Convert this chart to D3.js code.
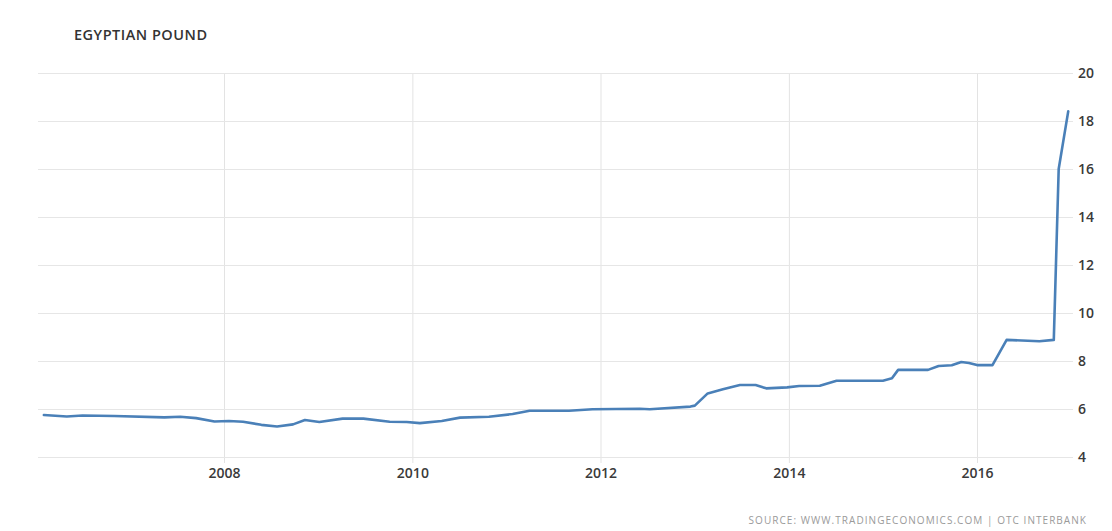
<!DOCTYPE html>
<html>
<head>
<meta charset="utf-8">
<script src="https://cdn.jsdelivr.net/npm/d3@7"></script>
<style>
  html, body { margin: 0; padding: 0; background: #fff; }
  svg { display: block; }
  .tick text { font-family: "Open Sans", sans-serif; font-weight: 600; font-size: 14px; fill: #3a3a3a; }
</style>
</head>
<body>
<svg id="chart" width="1112" height="531"></svg>
<script>
const title = "EGYPTIAN POUND";
const source = "SOURCE: WWW.TRADINGECONOMICS.COM | OTC INTERBANK";

const dates = [
  "2006-02-01","2006-05-01","2006-07-01","2006-11-01","2007-05-15","2007-07-15","2007-09-15","2007-11-25",
  "2008-01-20","2008-03-15","2008-05-25","2008-07-25","2008-09-25","2008-11-10","2009-01-05","2009-04-05",
  "2009-06-25","2009-10-05","2009-12-10","2010-01-30","2010-04-25","2010-07-05","2010-10-25","2011-01-25",
  "2011-04-01","2011-09-01","2011-12-01","2012-06-01","2012-07-10","2012-12-15","2013-01-01","2013-02-20",
  "2013-04-20","2013-06-25","2013-08-25","2013-10-05","2013-12-25","2014-02-10","2014-05-01","2014-07-05",
  "2015-01-01","2015-02-05","2015-03-01","2015-06-25","2015-08-05","2015-09-25","2015-11-01","2015-12-01",
  "2016-01-01","2016-03-01","2016-04-25","2016-08-30","2016-10-25","2016-11-13","2016-12-20"
];
const values = [
  5.75,5.69,5.73,5.71,5.65,5.68,5.62,5.48,
  5.50,5.47,5.34,5.27,5.36,5.54,5.46,5.60,
  5.60,5.47,5.46,5.41,5.50,5.64,5.68,5.79,
  5.93,5.93,5.99,6.01,5.99,6.10,6.14,6.65,
  6.82,7.00,7.00,6.86,6.90,6.96,6.97,7.18,
  7.18,7.28,7.63,7.63,7.79,7.82,7.96,7.92,
  7.83,7.83,8.88,8.82,8.88,16.0,18.4
];
const xTickYears = [2008, 2010, 2012, 2014, 2016];
const yTicks = [4, 6, 8, 10, 12, 14, 16, 18, 20];

(function () {
const parse = d3.timeParse("%Y-%m-%d");
const data = dates.map((d, i) => ({ date: parse(d), value: values[i] }));

const pLeft = 38, pRight = 1073, pTop = 73, pBottom = 457;
const svg = d3.select("#chart");

// time scale calibrated on the year gridlines, then trimmed to the plot width
const x0 = d3.scaleTime().domain([new Date(2008, 0, 1), new Date(2016, 0, 1)]).range([224, 977]);
const x = d3.scaleTime().domain([x0.invert(pLeft), x0.invert(pRight)]).range([pLeft, pRight]);
const y = d3.scaleLinear().domain([4, 20]).range([pBottom, pTop]);

// title
svg.append("text")
  .attr("x", 74).attr("y", 40)
  .attr("font-family", "Open Sans, sans-serif")
  .attr("font-weight", 600)
  .attr("font-size", 14.5)
  .attr("letter-spacing", 0.5)
  .attr("fill", "#333")
  .text(title);

// x axis with vertical gridlines
const xAxis = svg.append("g")
  .attr("transform", `translate(0,${pTop})`)
  .call(d3.axisBottom(x)
    .tickValues(xTickYears.map(yy => new Date(yy, 0, 1)))
    .tickFormat(d3.timeFormat("%Y"))
    .tickSize(pBottom - pTop + 6)
    .tickPadding(5));
xAxis.select(".domain").remove();
xAxis.selectAll(".tick line").attr("stroke", "#e3e3e3");

// y axis with horizontal gridlines, labels on the right
const yAxis = svg.append("g")
  .attr("transform", `translate(${pLeft},0)`)
  .call(d3.axisRight(y)
    .tickValues(yTicks)
    .tickFormat(d3.format("d"))
    .tickSize(pRight - pLeft)
    .tickPadding(5));
yAxis.select(".domain").remove();
yAxis.selectAll(".tick line").attr("stroke", "#e6e6e6");

// line
const line = d3.line().x(d => x(d.date)).y(d => y(d.value));
svg.append("path")
  .datum(data)
  .attr("fill", "none")
  .attr("stroke", "#4a80b8")
  .attr("stroke-width", 2.6)
  .attr("stroke-linejoin", "round")
  .attr("stroke-linecap", "round")
  .attr("d", line);

// source
svg.append("text")
  .attr("x", 1087).attr("y", 524)
  .attr("text-anchor", "end")
  .attr("font-family", "Open Sans, sans-serif")
  .attr("font-size", 10)
  .attr("letter-spacing", 1.05)
  .attr("fill", "#9a9a9a")
  .text(source);
})();
</script>
</body>
</html>
